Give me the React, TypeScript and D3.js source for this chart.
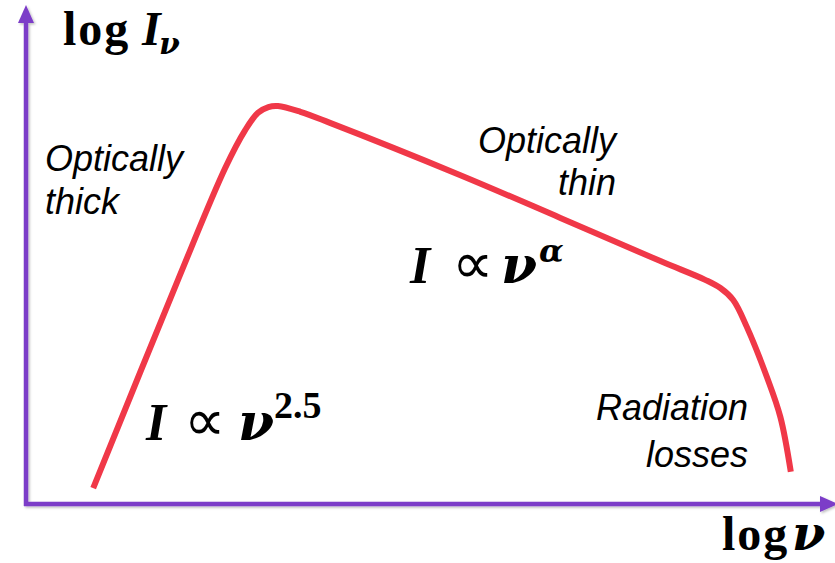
import React from "react";
import * as d3 from "d3";

// Synchrotron-like spectrum sketch: log I_nu versus log nu (arbitrary units)
const logNu = [0.84, 1.9, 2.49, 2.74, 2.9, 3.03, 3.15, 3.43, 3.8, 5.43, 6.68, 7.93, 8.49, 8.68, 8.84, 9.01, 9.26, 9.43, 9.56];
const logI = [0.33, 4.67, 7.0, 7.79, 8.15, 8.27, 8.29, 8.17, 7.94, 6.85, 5.96, 5.06, 4.67, 4.5, 4.25, 3.69, 2.65, 1.81, 0.67];

const W = 835;
const H = 563;
const AXIS = "#7C3CC8";
const CURVE = "#F03848";
const SANS = "'Liberation Sans', Arial, sans-serif";
const SERIF = "'Liberation Serif', 'Times New Roman', serif";
const GREEK = "'DejaVu Serif', serif";
const SYMBOL = "'DejaVu Sans', sans-serif";

export default function App() {
  const x = d3.scaleLinear().domain([0, 10]).range([26, 826]);
  const y = d3.scaleLinear().domain([0, 10]).range([504, 24]);
  const pts: [number, number][] = logNu.map((v, i) => [v, logI[i]]);
  const line = d3
    .line<[number, number]>()
    .x((d) => x(d[0]))
    .y((d) => y(d[1]))
    .curve(d3.curveCatmullRom.alpha(0.5));

  const ox = x(0);
  const oy = y(0);

  return (
    <svg
      width={W}
      height={H}
      viewBox={`0 0 ${W} ${H}`}
      style={{ position: "absolute", left: 0, top: 0, background: "#fff" }}
    >
      <defs>
        <filter id="shadow" x="-5%" y="-5%" width="110%" height="110%">
          <feDropShadow dx="1.5" dy="1.5" stdDeviation="1.2" floodColor="#000" floodOpacity="0.25" />
        </filter>
      </defs>

      {/* axes with arrowheads */}
      <g filter="url(#shadow)">
        <line x1={ox} y1={oy + 2} x2={ox} y2={20} stroke={AXIS} strokeWidth={4.5} />
        <path d={`M${ox},5 L${ox - 8},23 L${ox + 8},23 Z`} fill={AXIS} />
        <line x1={ox - 2} y1={oy} x2={822} y2={oy} stroke={AXIS} strokeWidth={4.5} />
        <path d={`M838,${oy} L820,${oy - 8} L820,${oy + 8} Z`} fill={AXIS} />
      </g>

      {/* spectrum */}
      <path d={line(pts) || ""} fill="none" stroke={CURVE} strokeWidth={6} strokeLinejoin="round" />

      {/* axis titles */}
      <text x={63} y={45} fontFamily={SERIF} fontWeight="bold" fontSize={48} letterSpacing={2} fill="#000">
        log
      </text>
      <text x={142} y={45} fontFamily={SERIF} fontWeight="bold" fontStyle="italic" fontSize={48} fill="#000">
        I
      </text>
      <text x={159} y={54} fontFamily={GREEK} fontWeight="bold" fontStyle="italic" fontSize={30} fill="#000">
        ν
      </text>

      <text x={722} y={550} fontFamily={SERIF} fontWeight="bold" fontSize={48} letterSpacing={2} fill="#000">
        log
      </text>
      <text x={792} y={550} fontFamily={GREEK} fontWeight="bold" fontStyle="italic" fontSize={48} fill="#000">
        ν
      </text>

      {/* regime labels */}
      <g fontFamily={SANS} fontStyle="italic" fontSize={36} fill="#000">
        <text x={45} y={171}>Optically</text>
        <text x={45} y={214}>thick</text>
        <text x={616} y={153} textAnchor="end">Optically</text>
        <text x={616} y={195} textAnchor="end">thin</text>
        <text x={748} y={420} textAnchor="end">Radiation</text>
        <text x={748} y={467} textAnchor="end">losses</text>
      </g>

      {/* power-law relations */}
      <g fill="#000">
        <text x={146} y={440} fontFamily={SERIF} fontWeight="bold" fontStyle="italic" fontSize={52}>I</text>
        <text x={184} y={440} fontFamily={SYMBOL} fontSize={58}>∝</text>
        <text x={238} y={440} fontFamily={GREEK} fontWeight="bold" fontStyle="italic" fontSize={52}>ν</text>
        <text x={274} y={418} fontFamily={SERIF} fontWeight="bold" fontSize={38}>2.5</text>

        <text x={410} y={283} fontFamily={SERIF} fontWeight="bold" fontStyle="italic" fontSize={52}>I</text>
        <text x={452} y={283} fontFamily={SYMBOL} fontSize={58}>∝</text>
        <text x={501} y={283} fontFamily={GREEK} fontWeight="bold" fontStyle="italic" fontSize={52}>ν</text>
        <text x={539} y={262} fontFamily={GREEK} fontWeight="bold" fontStyle="italic" fontSize={32}>α</text>
      </g>
    </svg>
  );
}
